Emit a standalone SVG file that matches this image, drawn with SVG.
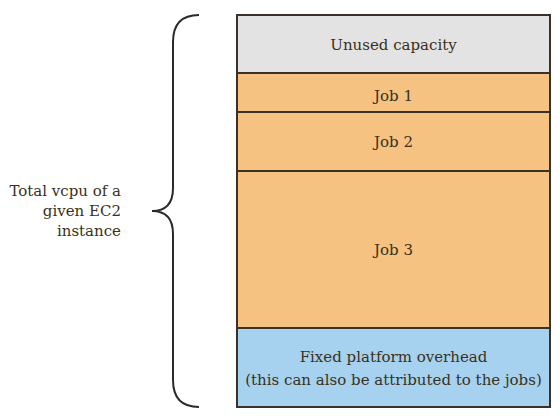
<svg xmlns="http://www.w3.org/2000/svg" width="560" height="420" viewBox="0 0 560 420">
<style>
text{font-family:"DejaVu Serif","Liberation Serif",serif;font-size:15px;fill:#3a3020}
.c{text-anchor:middle;dominant-baseline:central}
.r{text-anchor:end}
.box{stroke:#3a3228;stroke-width:2}
</style>
<rect width="560" height="420" fill="#fff"/>
<g id="brace"><path d="M199,15 Q173,15 173,42 L173,188 Q173,211 152,211 Q173,211 173,234 L173,380 Q173,407 199,407" fill="none" stroke="#2a2a2a" stroke-width="2"/></g>
<g id="label"><text class="r" x="121" y="196">Total vcpu of a</text><text class="r" x="121" y="216">given EC2</text><text class="r" x="121" y="236">instance</text></g>
<g id="unused"><rect class="box" x="237" y="15" width="313" height="58" fill="#e3e3e3"/><text class="c" x="393.5" y="45">Unused capacity</text></g>
<g id="job1"><rect class="box" x="237" y="73" width="313" height="39" fill="#f5c281"/><text class="c" x="393.5" y="96">Job 1</text></g>
<g id="job2"><rect class="box" x="237" y="112" width="313" height="59" fill="#f5c281"/><text class="c" x="393.5" y="142">Job 2</text></g>
<g id="job3"><rect class="box" x="237" y="171" width="313" height="157" fill="#f5c281"/><text class="c" x="393.5" y="250">Job 3</text></g>
<g id="overhead"><rect class="box" x="237" y="328" width="313" height="79" fill="#a6d2ef"/><text class="c" x="393.5" y="357">Fixed platform overhead</text><text class="c" x="393.5" y="380">(this can also be attributed to the jobs)</text></g>
<g id="connectors"></g>
</svg>
